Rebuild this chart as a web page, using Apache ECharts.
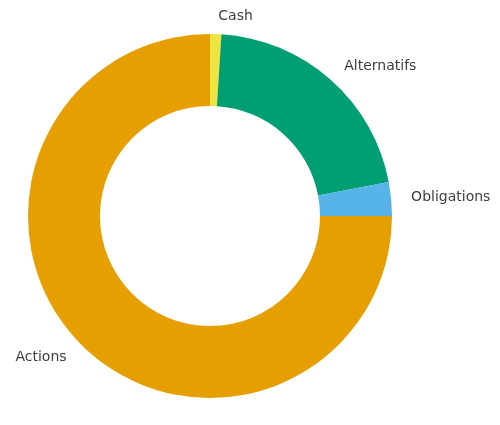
<!DOCTYPE html>
<html>
<head>
<meta charset="utf-8">
<script src="https://cdn.jsdelivr.net/npm/echarts@6/dist/echarts.min.js"></script>
<style>html,body{margin:0;padding:0;background:#fff;}#c{width:500px;height:425px;}</style>
</head>
<body>
<div id="c"></div>
<script>
const categories = ['Cash', 'Alternatifs', 'Obligations', 'Actions'];
const values = [1, 21, 3, 75];
const colors = ['#F0E442', '#009E73', '#56B4E9', '#E69F00'];

const chart = echarts.init(document.getElementById('c'), null, {renderer: 'canvas'});
chart.setOption({
  backgroundColor: '#ffffff',
  animation: false,
  series: [{
    type: 'pie',
    center: [210, 216],
    radius: [110, 182],
    startAngle: 90,
    clockwise: true,
    avoidLabelOverlap: false,
    itemStyle: { borderWidth: 0 },
    label: {
      show: true,
      position: 'outside',
      color: '#3d3d3d',
      fontFamily: 'DejaVu Sans',
      fontSize: 14,
      distanceToLabelLine: 2
    },
    labelLine: { show: false, length: 18, length2: 0 },
    emphasis: { disabled: true },
    data: categories.map((c, i) => ({ name: c, value: values[i], itemStyle: { color: colors[i] } }))
  }]
});
</script>
</body>
</html>
